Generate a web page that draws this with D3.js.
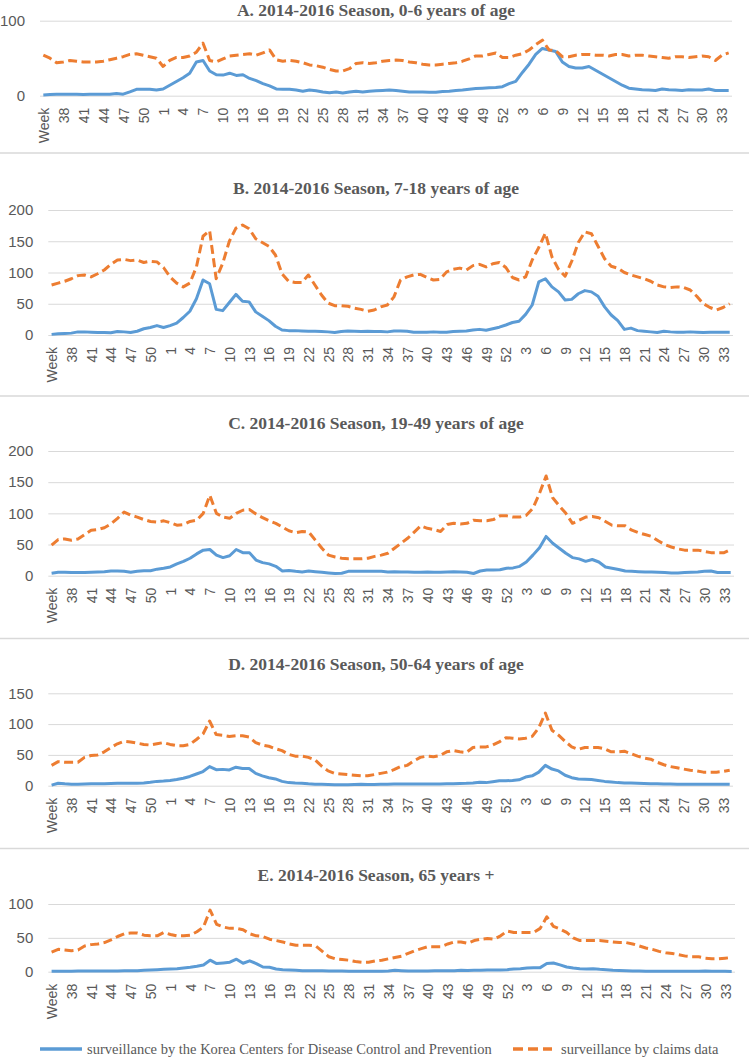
<!DOCTYPE html>
<html>
<head>
<meta charset="utf-8">
<script src="https://cdn.jsdelivr.net/npm/d3@7"></script>
<style>
  body { margin: 0; background: #fff; }
  svg { display: block; }
</style>
</head>
<body>
<svg id="chart"></svg>
<script>
// week numbers, 2014 wk35 .. 2016 wk34
const weeks = [
  35,36,37,38,39,40,41,42,43,44,45,46,47,48,49,50,51,52,
  1,2,3,4,5,6,7,8,9,10,11,12,13,14,15,16,17,18,19,20,21,22,23,24,25,26,
  27,28,29,30,31,32,33,34,35,36,37,38,39,40,41,42,43,44,45,46,47,48,49,50,51,52,
  1,2,3,4,5,6,7,8,9,10,11,12,13,14,15,16,17,18,19,20,21,22,23,24,25,26,
  27,28,29,30,31,32,33,34
]

const titles = [
  'A. 2014-2016 Season, 0-6 years of age',
  'B. 2014-2016 Season, 7-18 years of age',
  'C. 2014-2016 Season, 19-49 years of age',
  'D. 2014-2016 Season, 50-64 years of age',
  'E. 2014-2016 Season, 65 years +'
]

const yTicksA = [0, 100]
const yTicksB = [0, 50, 100, 150, 200]
const yTicksC = [0, 50, 100, 150, 200]
const yTicksD = [0, 50, 100, 150]
const yTicksE = [0, 50, 100]

const seriesNames = [
  'surveillance by the Korea Centers for Disease Control and Prevention',
  'surveillance by claims data'
]

const kcdcA = [
  1,1.5,2,2,2,2,1.5,2,2,2,2,3,2,5,8.5,8.5,8.5,7.5,
  9,14,19,24,30,45,47,33,28,27.5,30,27,28,23,20,16,13,9,
  8.5,8.5,7.5,6,7.5,6.5,5,4,5,3.5,5,6,5,6,6.5,7,7.5,7,
  6,5,5,5,4.5,4.5,5.5,6,7,7.5,8.5,9.5,10,10.5,11,12,
  16,19,31,42,55,63,61,59,45,39,37,37,39,34,29,24,19,14,
  10,9,8,7.5,7,9,8,7.5,7,8,7.5,7.5,9,7,7,7
]
const claimsA = [
  54,50,44,45,47,46,45,45,45,46,48,50,52,55,56,54,52,50,
  39,47,51,51,53,58,70,47,45,49,53,54,55,56,54,57,61,48,
  46,47,46,44,41,40,38,35,33,33,36,43,44,43,44,46,47,47.5,
  47,45,44,42,41,41,42,43,44,46,49,53,53,55,57,51,
  51,54,56,61,68,74,61,60,52,52,54,55,55,54,54,53,55,55,
  53,54,54,53,52,51,50,52,52,51,52,53,52,47,54,57
]

const kcdcB = [
  1,2,2.5,3,5,5,4.5,4,4,3.5,5.5,5,4,6,10,12,15,12,
  15,19,28,38,58,88,82,41,39,52,65,54,53,37,30,23,14,8,
  7,7,6.5,6,6,5.5,5,4,5.5,6.5,6,5.5,6,5.5,5.5,5,6.5,6.5,
  6,4.5,4.5,4.5,5,4.5,4.5,5.5,6,6.5,8,9,7.5,10,12.5,16,
  20,22,33,48,85,90,77,69,56,57,66,71,69,62,45,32,23,9,
  11,7,6,5,4,6,5,4.5,4.5,5,4.5,4,4.5,4.5,4.5,4.5
]
const claimsB = [
  80,83,86,90,95,96,93,98,104,113,120,121,119,120,116,118,117,108,
  93,83,77,83,109,158,167,90,115,150,171,176,170,154,148,142,128,98,
  86,84,84,96,80,64,51,47,47,46,43,41,38,40,45,48,61,88,
  93,96,97,92,88,89,101,105,107,104,111,113,109,114,116,108,
  92,88,93,120,140,163,125,105,94,118,148,165,162,142,122,110,107,100,
  96,93,90,86,80,77,76,77,76,72,62,50,44,40,44,50
]

const kcdcC = [
  4,5.5,5.5,5,5,5,5.5,6,6.5,7.5,7.5,7,5.5,7,8,8,10.5,12,
  14,19,23,28,35,41,42,33,29,32,42,37,37,25,21,19,15,7.5,
  8.5,7,6,7.5,6.5,5.5,4.5,3.5,4,7,7,7,7,7,7,6,6.5,6,
  6,5.5,5.5,6,5.5,5.5,6,6.5,6,5.5,3.5,7.5,9,9,9.5,12,
  12.5,15,22,33,45,63,52,44,36,29,27,23,26,22,14,12,10,7.5,
  7,6.5,6,6,5.5,5,4.5,4.5,5,5.5,6,7,7.5,5,5,5
]
const claimsC = [
  49,58,59,57,59,66,73,74,77,83,92,102,97,94,90,87,86,88,
  85,81,82,87,89,100,129,100,94,92,100,105,106,99,93,88,84,78,
  72,69,71,70,57,44,33,30,28,27,27,27,28,31,33,36,44,52,
  60,70,80,76,74,71,82,84,83,84,89,88,88,90,96,96,
  94,94,97,108,132,160,125,112,100,84,89,94,95,93,87,81,80,80,
  73,69,66,63,56,50,46,43,41,41,41,39,37,37,37,42
]

const kcdcD = [
  1,4,3,2.5,2.5,2.7,3,3,3.2,3.5,3.8,3.8,4,4,4.3,5.5,7,7.6,
  8.5,10,12,15,19,23,31,26,26.5,25.5,30,28,28,20,16,13,11,7,
  5,4.3,4,3,2.5,2.2,2,1.6,1.6,1.6,2,2.2,1.8,2,2.2,2.5,2.7,2.8,
  2.7,2.8,2.8,2.7,2.7,2.8,3,3.2,3.5,3.8,4.5,5.5,5,6.5,8,8,
  8.5,9.5,14,16,22,33,27,24,17,13,11,10.5,10,8.5,7,6,5,4.5,
  4.3,4,3.5,3.2,3,2.8,2.7,2.5,2.5,2.3,2.2,2.3,2.5,2.5,2.3,2.2
]
const claimsD = [
  33,39,38,38,38,46,49,50,55,62,68,72,71,69,67,66,68,70,
  67,65,65,67,75,84,105,83,82,80,81,81,79,70,66,64,60,57,
  51,48,48,46,42,32,24,20,19,18,17,16,16,18,20,22,26,31,
  33,40,46,48,47,49,55,57,55,54,62,63,63,66,71,78,
  77,76,77,80,94,118,90,82,72,63,59,62,62,62,60,55,55,56,
  52,48,45,43,38,34,31,29,27,25,24,22,22,22,23,25
]

const kcdcE = [
  0.5,0.6,0.7,0.8,1,1,1,1,1,1,1.2,1.3,1.5,1.5,2,2.5,3,3.5,
  4,4.5,5.5,6.5,8,10,17,12,13,14,18.5,12.5,16,12,7,6.5,4,3,
  2.5,2,1.5,1.5,1.5,1.3,1,1,1,0.8,0.6,0.5,0.5,0.5,0.5,1,2,1.5,
  1,1,1.2,1.2,1.5,1.5,1.5,1.5,2,1.8,2,2,2.5,2.5,2.5,3,
  4,4.5,5.5,6,6,12,12.8,10,7,5.5,4.5,4,4.5,3.5,3,2,1.8,1.5,
  1.2,1,0.6,0.5,0.5,0.5,0.5,0.5,0.5,0.8,0.8,1,0.8,0.8,0.5,0.3
]
const claimsE = [
  29,33,32,31,32,38,40,41,43,47,52,56,57,57,54,53,53,58,
  55,53,53,54,59,66,91,70,66,64,64,62,56,53,52,48,46,44,
  41,39,39,39,38,30,22,19,18,17,15,14,14,16,17,19,21,23,
  27,31,34,37,37,37,41,44,44,42,46,48,49,48,53,60,
  58,58,58,58,64,81,67,63,58,50,46,46,46,46,45,44,43,43,
  41,38,35,33,30,28,27,25,23,22,22,20,19,19,20,21
]

const panels = [
  { title: titles[0], kcdc: kcdcA, claims: claimsA, ticks: yTicksA },
  { title: titles[1], kcdc: kcdcB, claims: claimsB, ticks: yTicksB },
  { title: titles[2], kcdc: kcdcC, claims: claimsC, ticks: yTicksC },
  { title: titles[3], kcdc: kcdcD, claims: claimsD, ticks: yTicksD },
  { title: titles[4], kcdc: kcdcE, claims: claimsE, ticks: yTicksE }
]

const WIDTH = 749
const HEIGHT = 1058
const BLUE = '#5b9bd5'
const ORANGE = '#ed7d31'
const GRID = '#d9d9d9'
const TEXT = '#595959'
const DASH = '9,4.5'

// pixel boxes of the five stacked charts
const layout = [
  { titleY: 9.5, left: 40,   right: 732, y0: 95.7,  yTop: 20.7 },
  { titleY: 188, left: 48.3, right: 733, y0: 335,   yTop: 210 },
  { titleY: 423, left: 48.3, right: 734, y0: 575.7, yTop: 451 },
  { titleY: 664, left: 48.3, right: 733, y0: 785.7, yTop: 693.3 },
  { titleY: 875, left: 48.3, right: 735, y0: 971.7, yTop: 904 }
]
const separators = [153, 396, 638.5, 848.5]

const svg = d3.select('#chart')
  .attr('width', WIDTH)
  .attr('height', HEIGHT)

svg.append('rect')
  .attr('width', WIDTH)
  .attr('height', HEIGHT)
  .attr('fill', '#fff')

svg.selectAll('line.sep')
  .data(separators)
  .enter()
  .append('line')
  .attr('class', 'sep')
  .attr('x1', 0)
  .attr('x2', WIDTH)
  .attr('y1', d => d)
  .attr('y2', d => d)
  .attr('stroke', GRID)
  .attr('stroke-width', 1.5)

panels.forEach((p, k) => drawPanel(p, layout[k]))
drawLegend()

function drawPanel(p, L) {
  const g = svg.append('g')

  const xScale = d3.scalePoint()
    .domain(d3.range(weeks.length))
    .range([L.left, L.right])
    .padding(0.5)

  const yScale = d3.scaleLinear()
    .domain([0, d3.max(p.ticks)])
    .range([L.y0, L.yTop])

  // y axis + gridlines
  g.append('g')
    .attr('transform', `translate(${L.left},0)`)
    .call(d3.axisLeft(yScale).tickValues(p.ticks).tickSize(-(L.right - L.left)).tickPadding(15))
    .call(a => a.select('.domain').remove())
    .call(a => a.selectAll('line').attr('stroke', GRID).attr('stroke-width', 1))
    .call(a => a.selectAll('text')
      .attr('fill', TEXT)
      .style('font-family', '"Liberation Sans", Arial, sans-serif')
      .style('font-size', '15px'))

  // week labels, every third week
  g.append('g')
    .attr('transform', `translate(0,${L.y0})`)
    .call(d3.axisBottom(xScale)
      .tickValues(d3.range(0, weeks.length, 3))
      .tickSize(0)
      .tickFormat(i => i === 0 ? 'Week' : weeks[i]))
    .call(a => a.select('.domain').remove())
    .selectAll('text')
    .attr('transform', 'rotate(-90)')
    .attr('text-anchor', 'end')
    .attr('x', -12)
    .attr('y', 0)
    .attr('dy', '0.35em')
    .attr('fill', TEXT)
    .style('font-family', '"Liberation Sans", Arial, sans-serif')
    .style('font-size', '14px')

  const line = d3.line()
    .x((d, i) => xScale(i))
    .y(d => yScale(d))

  g.append('path')
    .datum(p.kcdc)
    .attr('d', line)
    .attr('fill', 'none')
    .attr('stroke', BLUE)
    .attr('stroke-width', 3)
    .attr('stroke-linejoin', 'round')

  g.append('path')
    .datum(p.claims)
    .attr('d', line)
    .attr('fill', 'none')
    .attr('stroke', ORANGE)
    .attr('stroke-width', 3)
    .attr('stroke-dasharray', DASH)
    .attr('stroke-linejoin', 'round')

  g.append('text')
    .attr('x', 376)
    .attr('y', L.titleY)
    .attr('text-anchor', 'middle')
    .attr('dominant-baseline', 'central')
    .attr('fill', TEXT)
    .style('font-family', '"Liberation Serif", "Times New Roman", serif')
    .style('font-weight', 'bold')
    .style('font-size', '17.5px')
    .text(p.title)
}

function drawLegend() {
  const LEG_Y = 1049
  const items = [
    { x1: 40, x2: 82, tx: 87, color: BLUE, dash: null },
    { x1: 513, x2: 552, tx: 561, color: ORANGE, dash: '10,5' }
  ]
  const lg = svg.append('g')
  items.forEach((it, i) => {
    lg.append('line')
      .attr('x1', it.x1).attr('x2', it.x2)
      .attr('y1', LEG_Y).attr('y2', LEG_Y)
      .attr('stroke', it.color)
      .attr('stroke-width', 3.3)
      .attr('stroke-dasharray', it.dash)
    lg.append('text')
      .attr('x', it.tx)
      .attr('y', LEG_Y)
      .attr('dominant-baseline', 'central')
      .attr('fill', TEXT)
      .style('font-family', '"Liberation Serif", "Times New Roman", serif')
      .style('font-size', '14.5px')
      .text(seriesNames[i])
  })
}
</script>
</body>
</html>
